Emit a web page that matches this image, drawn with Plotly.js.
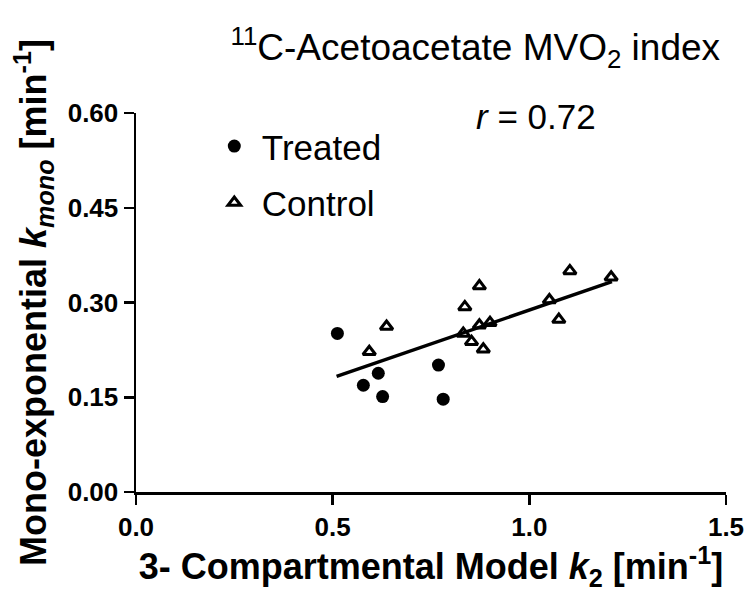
<!DOCTYPE html>
<html>
<head>
<meta charset="utf-8">
<script src="https://cdn.plot.ly/plotly-3.0.1.min.js"></script>
<style>
  html, body { margin: 0; padding: 0; background: #fff; }
  #chart { width: 747px; height: 592px; }
</style>
</head>
<body>
<div id="chart"></div>
<script>
// ---- data ----
const treatedX = [0.512, 0.578, 0.616, 0.627, 0.769, 0.781];
const treatedY = [0.251, 0.169, 0.188, 0.151, 0.201, 0.147];

const controlX = [0.593, 0.637, 0.832, 0.836, 0.853, 0.873, 0.873, 0.883, 0.900, 1.051, 1.075, 1.103, 1.208];
const controlY = [0.222, 0.262, 0.251, 0.293, 0.238, 0.264, 0.326, 0.226, 0.268, 0.304, 0.273, 0.350, 0.340];

const fitX = [0.51, 1.21];
const fitY = [0.183, 0.333];

const xTickVals = [0, 0.5, 1.0, 1.5];
const xTickText = ['0.0', '0.5', '1.0', '1.5'];
const yTickVals = [0, 0.15, 0.30, 0.45, 0.60];
const yTickText = ['0.00', '0.15', '0.30', '0.45', '0.60'];

const seriesNames = ['Treated', 'Control'];
const titleText = '<sup>11</sup>C-Acetoacetate MVO<sub>2</sub> index';
const xTitle = '3- Compartmental Model <i>k</i><sub>2</sub> [min<sup>-1</sup>]';
const yTitle = 'Mono-exponential <i>k</i><sub><i>mono</i></sub> [min<sup>-1</sup>]';
const rLabel = '<i>r</i> = 0.72';

const FONT = 'Liberation Sans, Arial, Helvetica, sans-serif';

const traces = [
  {
    x: fitX, y: fitY, type: 'scatter', mode: 'lines',
    line: { color: '#000', width: 3.5 },
    showlegend: false, hoverinfo: 'skip'
  },
  {
    x: treatedX, y: treatedY, type: 'scatter', mode: 'markers',
    name: seriesNames[0], legendgroup: 'a',
    marker: { symbol: 'circle', size: 13, color: '#000', line: { width: 0 } }
  },
  {
    x: controlX, y: controlY, type: 'scatter', mode: 'markers',
    name: seriesNames[1], legendgroup: 'b',
    marker: { symbol: 'triangle-up-open', size: 11, color: '#000', line: { width: 3, color: '#000' } }
  }
];

const axisCommon = {
  showline: true, linecolor: '#000', linewidth: 2.5,
  ticks: 'outside', ticklen: 10, tickwidth: 2.5, tickcolor: '#000',
  showgrid: false, zeroline: false,
  tickfont: { family: FONT, size: 26, color: '#000', weight: 'bold' },
  fixedrange: true
};

const layout = {
  width: 747, height: 592,
  paper_bgcolor: '#fff', plot_bgcolor: '#fff',
  margin: { l: 136, r: 21, t: 113, b: 100 },
  font: { family: FONT, color: '#000' },
  title: {
    text: titleText,
    font: { family: FONT, size: 37, color: '#000' },
    xref: 'paper', x: 0.575, xanchor: 'center',
    yref: 'container', y: 0.92, yanchor: 'middle'
  },
  xaxis: Object.assign({}, axisCommon, {
    range: [0, 1.5],
    tickmode: 'array', tickvals: xTickVals, ticktext: xTickText,
    title: { text: xTitle, font: { family: FONT, size: 36, color: '#000', weight: 'bold' }, standoff: 10 }
  }),
  yaxis: Object.assign({}, axisCommon, {
    range: [0, 0.6],
    tickmode: 'array', tickvals: yTickVals, ticktext: yTickText,
    title: { text: yTitle, font: { family: FONT, size: 36, color: '#000', weight: 'bold' }, standoff: 10 }
  }),
  showlegend: true,
  legend: {
    x: 0.12, xanchor: 'left', y: 0.99, yanchor: 'top',
    bgcolor: 'rgba(0,0,0,0)', borderwidth: 0,
    font: { family: FONT, size: 35, color: '#000' },
    tracegroupgap: 8,
    itemwidth: 45,
    itemsizing: 'trace'
  },
  annotations: [
    {
      text: rLabel, xref: 'paper', yref: 'paper',
      x: 0.678, y: 0.99, xanchor: 'center', yanchor: 'middle',
      showarrow: false,
      font: { family: FONT, size: 35, color: '#000' }
    }
  ]
};

Plotly.newPlot('chart', traces, layout, { displayModeBar: false, staticPlot: true });
</script>
</body>
</html>
